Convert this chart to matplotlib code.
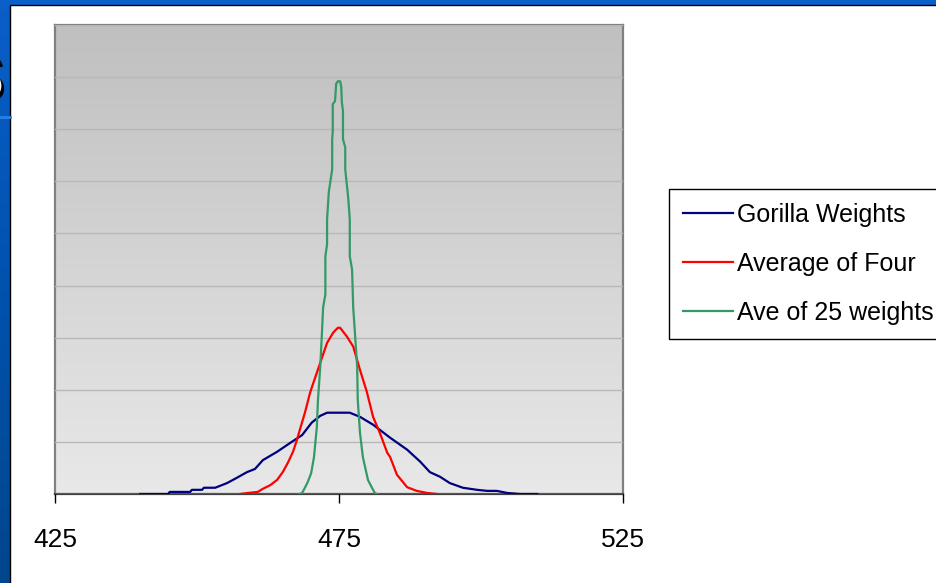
import numpy as np
import matplotlib.pyplot as plt
import matplotlib.patheffects as pe
from matplotlib.colors import LinearSegmentedColormap
from matplotlib.patches import Rectangle

# weight values (x) and frequency (y)
gorilla_x = [440.0, 444.9, 445.2, 448.8, 449.1, 450.9, 451.2, 453.2, 455.3, 457.0,
             458.8, 460.2, 461.6, 464.1, 466.4, 468.5, 470.2, 471.7, 472.9, 476.9,
             478.7, 481.0, 484.0, 487.0, 489.3, 491.0, 492.8, 494.5, 496.8, 499.3,
             501.1, 502.8, 504.6, 506.9, 509.9]
gorilla_y = [0.0, 0.0, 0.04, 0.04, 0.08, 0.08, 0.12, 0.12, 0.21, 0.31,
             0.42, 0.48, 0.65, 0.81, 0.98, 1.13, 1.37, 1.50, 1.56, 1.56,
             1.48, 1.33, 1.08, 0.85, 0.62, 0.42, 0.33, 0.21, 0.12, 0.08,
             0.06, 0.06, 0.02, 0.0, 0.0]

four_x = [457.6, 459.0, 460.7, 461.6, 462.9, 464.1, 465.1, 466.0, 466.9, 467.6,
          468.1, 469.0, 469.9, 470.2, 471.7, 472.9, 474.0, 474.8, 475.2, 476.4,
          477.5, 478.7, 479.9, 481.0, 482.2, 483.5, 484.0, 485.2, 487.0, 488.7,
          490.5, 492.3]
four_y = [0.0, 0.02, 0.04, 0.10, 0.17, 0.27, 0.42, 0.60, 0.81, 1.04,
          1.23, 1.56, 1.94, 2.04, 2.52, 2.90, 3.10, 3.19, 3.19, 3.02,
          2.83, 2.38, 1.96, 1.48, 1.17, 0.79, 0.71, 0.37, 0.13, 0.06,
          0.02, 0.0]

ave25_x = [468.0, 468.5, 469.0, 469.5, 470.1, 470.6, 471.1, 471.3, 471.7, 472.0,
           472.2, 472.6, 472.6, 472.9, 472.9, 473.2, 473.8, 473.8, 473.9, 473.9,
           474.3, 474.5, 474.8, 475.2, 475.4, 475.5, 475.7, 475.7, 476.1, 476.1,
           476.6, 476.9, 476.9, 477.3, 477.5, 477.8, 478.2, 478.3, 478.7, 479.2,
           480.1, 480.8, 481.3, 481.7]
ave25_y = [0.0, 0.02, 0.12, 0.23, 0.40, 0.71, 1.29, 1.81, 2.44, 3.10,
           3.58, 3.83, 4.56, 4.79, 5.27, 5.79, 6.23, 6.81, 6.96, 7.48,
           7.54, 7.87, 7.92, 7.92, 7.81, 7.52, 7.35, 6.81, 6.65, 6.23,
           5.71, 5.27, 4.56, 4.31, 3.58, 3.10, 2.44, 1.81, 1.17, 0.71,
           0.27, 0.12, 0.02, 0.0]

x_ticks = [425, 475, 525]

W, H = 937, 583
fig = plt.figure(figsize=(W / 100, H / 100), dpi=100)

# slide background: blue frame with white panel
bg = fig.add_axes([0, 0, 1, 1], zorder=-5)
blue = LinearSegmentedColormap.from_list('blue', ['#0a5fc8', '#0052ae', '#00468c'])
bg.imshow(np.linspace(0, 1, 100).reshape(-1, 1), cmap=blue, aspect='auto',
          extent=[0, W, H, 0])
bg.plot([0, 10], [117, 117], color='#2a80e0', lw=2)
bg.text(4, 82, 'S', fontsize=48, fontweight='bold', color='white',
        ha='right', va='center', family='Liberation Sans',
        path_effects=[pe.withSimplePatchShadow(offset=(2, -2), shadow_rgbFace='black', alpha=1)])
bg.add_patch(Rectangle((10, 5), W, H, facecolor='white', edgecolor='black', lw=1))
bg.set_xlim(0, W)
bg.set_ylim(H, 0)
bg.axis('off')

# chart
ax = fig.add_axes([55 / W, 1 - 494 / H, (623 - 55) / W, (494 - 25) / H])
gray = LinearSegmentedColormap.from_list('gray', ['#c0c0c0', '#e8e8e8'])
ax.imshow(np.linspace(0, 1, 100).reshape(-1, 1), cmap=gray, aspect='auto',
          extent=[425, 525, 0, 9], zorder=0)

ax.plot(gorilla_x, gorilla_y, color='#000080', lw=1.6, label='Gorilla Weights', zorder=3)
ax.plot(four_x, four_y, color='#ff0000', lw=1.6, label='Average of Four', zorder=3)
ax.plot(ave25_x, ave25_y, color='#339966', lw=1.6, label='Ave of 25 weights', zorder=3)

ax.set_xlim(425, 525)
ax.set_ylim(0, 9)
ax.set_yticks(range(10))
ax.set_yticklabels([])
ax.tick_params(axis='y', length=0)
ax.grid(axis='y', color='#b8b8b8', lw=1)
ax.set_axisbelow(False)
for line in ax.get_ygridlines():
    line.set_zorder(1)

ax.set_xticks(x_ticks)
ax.set_xticklabels([str(t) for t in x_ticks], family='Liberation Sans', fontsize=19)
ax.tick_params(axis='x', direction='out', length=6.5, width=1, pad=18, color='black')

for side in ['left', 'top', 'right']:
    ax.spines[side].set_color('#808080')
    ax.spines[side].set_linewidth(1.6)
ax.spines['bottom'].set_color('#404040')
ax.spines['bottom'].set_linewidth(1.6)

leg = ax.legend(loc='upper left', bbox_to_anchor=(669 / W, 1 - 189 / H),
                bbox_transform=fig.transFigure, borderaxespad=0,
                prop={'family': 'Liberation Sans', 'size': 18},
                fancybox=False, edgecolor='black', framealpha=1,
                handlelength=2.0, handletextpad=0.17, labelspacing=1.0,
                borderpad=0.55)
leg.get_frame().set_linewidth(1)

fig.savefig('out.png', dpi=100)
